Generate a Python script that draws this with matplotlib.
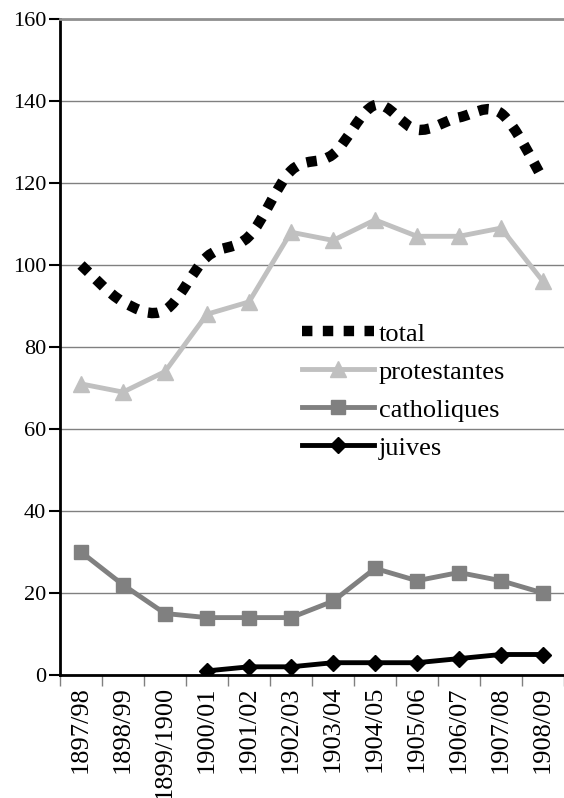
import numpy as np
import matplotlib
matplotlib.use("Agg")
import matplotlib.pyplot as plt
from matplotlib.path import Path
from matplotlib.patches import PathPatch
from matplotlib.lines import Line2D

plt.rcParams['font.family'] = 'serif'
plt.rcParams['font.serif'] = ['Liberation Serif', 'DejaVu Serif']

# data
years = ['1897/98', '1898/99', '1899/1900', '1900/01', '1901/02', '1902/03',
         '1903/04', '1904/05', '1905/06', '1906/07', '1907/08', '1908/09']
total = [100, 91, 89, 102, 107, 123, 127, 139, 133, 136, 137, 121]
protestantes = [71, 69, 74, 88, 91, 108, 106, 111, 107, 107, 109, 96]
catholiques = [30, 22, 15, 14, 14, 14, 18, 26, 23, 25, 23, 20]
juives = [np.nan, np.nan, np.nan, 1, 2, 2, 3, 3, 3, 4, 5, 5]

x = np.arange(len(years))


# smooth curve through the points (like the spreadsheet "smoothed line")
def smooth_path(xs, ys):
    pts = np.column_stack([xs, ys]).astype(float)
    verts = [pts[0]]
    codes = [Path.MOVETO]
    n = len(pts)
    for i in range(n - 1):
        p0 = pts[i - 1] if i > 0 else pts[i]
        p1 = pts[i]
        p2 = pts[i + 1]
        p3 = pts[i + 2] if i + 2 < n else pts[i + 1]
        c1 = p1 + (p2 - p0) / 6.0
        c2 = p2 - (p3 - p1) / 6.0
        verts += [c1, c2, p2]
        codes += [Path.CURVE4] * 3
    return Path(verts, codes)


fig = plt.figure(figsize=(5.64, 7.98), dpi=100)
ax = fig.add_axes([60 / 564, 123 / 798, 504 / 564, 656 / 798])

total_style = dict(color='black', linewidth=7.5, linestyle=(0, (1, 1.0)))
ax.add_patch(PathPatch(smooth_path(x, total), fill=False, capstyle='butt',
                       zorder=3, **total_style))

ax.plot(x, protestantes, color='#c0c0c0', linewidth=3.5, marker='^',
        markersize=11, zorder=3)
ax.plot(x, catholiques, color='#808080', linewidth=3.5, marker='s',
        markersize=10, zorder=3)
ax.plot(x, juives, color='black', linewidth=3.5, marker='D',
        markersize=8, zorder=3)

ax.set_xlim(-0.5, len(years) - 0.5)
ax.set_ylim(0, 160)
ax.set_yticks(range(0, 161, 20))
ax.yaxis.grid(True, color='#808080', linewidth=1)
ax.set_axisbelow(True)

ax.set_xticks(x)
ax.set_xticklabels(years, rotation=90, fontsize=19)
ax.set_xticks(np.arange(-0.5, len(years), 1), minor=True)
ax.tick_params(axis='x', which='major', length=0, pad=8)
ax.tick_params(axis='x', which='minor', length=8, color='#808080', width=1)
ax.tick_params(axis='y', labelsize=16, length=8, width=1.5, pad=2)

ax.spines['right'].set_visible(False)
ax.spines['top'].set_color('#909090')
ax.spines['top'].set_linewidth(2)
ax.spines['left'].set_linewidth(2)
ax.spines['bottom'].set_linewidth(2)

handles = [
    Line2D([], [], **total_style, dash_capstyle='butt'),
    Line2D([], [], color='#c0c0c0', linewidth=3.5, marker='^', markersize=11),
    Line2D([], [], color='#808080', linewidth=3.5, marker='s', markersize=10),
    Line2D([], [], color='black', linewidth=3.5, marker='D', markersize=8),
]
labels = ['total', 'protestantes', 'catholiques', 'juives']
ax.legend(handles, labels, loc='upper left', bbox_to_anchor=(0.46, 0.554),
          frameon=False, fontsize=19, handlelength=2.7, handletextpad=0.2,
          labelspacing=0.55, borderaxespad=0)

fig.savefig('out.png', dpi=100)
